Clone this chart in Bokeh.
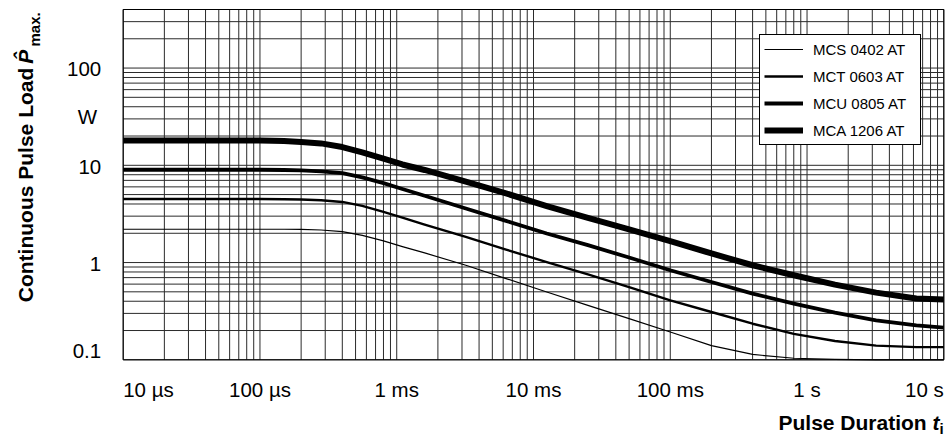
import math
from bokeh.plotting import figure
from bokeh.models import Label, Legend, LegendItem, Range1d
from bokeh.embed import file_html
from bokeh.resources import INLINE

# ---------------- data ----------------
t_s = [1e-5, 1e-4, 1.5e-4, 2e-4, 2.8e-4, 4e-4, 5.6e-4, 8e-4, 1.1e-3, 1.6e-3,
       3.2e-3, 6.3e-3, 1.25e-2, 2.5e-2, 5e-2, 0.1, 0.2, 0.4, 0.8, 1.6, 3.2, 6.3, 10]
mcs_0402 = [2.2, 2.2, 2.2, 2.19, 2.16, 2.08, 1.9, 1.67, 1.46, 1.256,
            0.938, 0.684, 0.498, 0.363, 0.265, 0.193, 0.140, 0.1135, 0.1038, 0.101, 0.1, 0.1, 0.1]
mct_0603 = [4.5, 4.5, 4.48, 4.45, 4.37, 4.2, 3.82, 3.32, 2.9, 2.46,
            1.84, 1.36, 1.01, 0.757, 0.56, 0.408, 0.31, 0.235, 0.185, 0.156, 0.140, 0.135, 0.135]
mcu_0805 = [9.0, 9.0, 8.95, 8.85, 8.65, 8.3, 7.5, 6.55, 5.7, 4.86,
            3.6, 2.68, 1.99, 1.51, 1.126, 0.833, 0.631, 0.479, 0.378, 0.305, 0.254, 0.226, 0.214]
mca_1206 = [18.0, 18.0, 17.8, 17.4, 16.8, 15.4, 13.6, 11.7, 10.2, 8.95,
            6.78, 5.14, 3.81, 2.88, 2.19, 1.66, 1.24, 0.938, 0.74, 0.593, 0.491, 0.426, 0.416]

series_names = ["MCS 0402 AT", "MCT 0603 AT", "MCU 0805 AT", "MCA 1206 AT"]
series_values = [mcs_0402, mct_0603, mcu_0805, mca_1206]

x_decades = [1e-5, 1e-4, 1e-3, 1e-2, 1e-1, 1e0, 1e1]
x_tick_labels = ["10 \u00b5s", "100 \u00b5s", "1 ms", "10 ms", "100 ms", "1 s", "10 s"]
y_decades = [0.1, 1, 10, 100]
y_tick_labels = ["0.1", "1", "10", "100"]
y_max = 400
y_unit = "W"
y_unit_pos = 31.6
x_title = "Pulse Duration "
x_title_sym, x_title_sub = "t", "i"
y_title = "Continuous Pulse Load "
y_title_sym, y_title_sub = "P\u0302", "max."

# ---------------- layout / styles ----------------
W, H = 946, 441
PLOT_L, PLOT_R, PLOT_T, PLOT_B = 122.7, 943.3, 9.0, 359.3   # plot-area box in pixels
FONT = "Liberation Sans"
line_widths = [1.2, 2.4, 3.8, 6.0]
GRID = "#2b2b2b"
BASE_FIX = 0.38   # em; compensates the label baseline placement

x_lo, x_hi = x_decades[0], x_decades[-1]
y_lo, y_hi = y_decades[0], y_max
lx_lo, lx_hi = math.log10(x_lo), math.log10(x_hi)
ly_lo, ly_hi = math.log10(y_lo), math.log10(y_hi)
dec_x = (PLOT_R - PLOT_L) / (lx_hi - lx_lo)
dec_y = (PLOT_B - PLOT_T) / (ly_hi - ly_lo)
x_range = Range1d(10 ** (lx_lo - PLOT_L / dec_x), 10 ** (lx_hi + (W - PLOT_R) / dec_x))
y_range = Range1d(10 ** (ly_lo - (H - PLOT_B) / dec_y), 10 ** (ly_hi + PLOT_T / dec_y))

p = figure(width=W, height=H, x_axis_type="log", y_axis_type="log",
           x_range=x_range, y_range=y_range,
           output_backend="svg", toolbar_location=None,
           min_border_left=0, min_border_right=0, min_border_top=0, min_border_bottom=0)
p.xaxis.visible = False
p.yaxis.visible = False
p.xgrid.visible = False
p.ygrid.visible = False
p.outline_line_color = None
p.background_fill_color = "white"
p.border_fill_color = "white"

# grid (major + minor) inside the plot area
x_grid = [d * m for d in x_decades[:-1] for m in range(1, 10)] + [x_decades[-1]]
y_grid = [d * m for d in y_decades for m in range(1, 10) if d * m <= y_max]
p.segment(x0=x_grid, y0=[y_lo] * len(x_grid), x1=x_grid, y1=[y_hi] * len(x_grid),
          line_color=GRID, line_width=1)
p.segment(x0=[x_lo] * len(y_grid), y0=y_grid, x1=[x_hi] * len(y_grid), y1=y_grid,
          line_color=GRID, line_width=1)
p.quad(left=[x_lo], right=[x_hi], bottom=[y_lo], top=[y_hi],
       fill_color=None, line_color="black", line_width=1)

renderers = []
for vals, lw in zip(series_values, line_widths):
    r = p.line(t_s, vals, line_color="black", line_width=lw, line_join="round")
    renderers.append(r)

legend = Legend(items=[LegendItem(label=n, renderers=[r]) for n, r in zip(series_names, renderers)],
                location=(759, 296), padding=4, spacing=7, margin=0,
                glyph_width=39, glyph_height=20, label_height=20, label_width=103,
                label_standoff=10, label_text_font=FONT, label_text_font_size="15px",
                label_text_color="black",
                border_line_color="black", border_line_width=1, border_line_alpha=1,
                background_fill_color="white", background_fill_alpha=1)
p.add_layout(legend)


def add_text(text, x, y, xo, yo, align="center", size=20.5, style="normal", angle=0.0):
    fix = BASE_FIX * size
    if angle:
        xo -= fix
    else:
        yo += fix
    p.add_layout(Label(x=x, y=y, x_offset=xo, y_offset=yo, text=text,
                       text_align=align, text_baseline="alphabetic",
                       text_font=FONT, text_font_size=f"{size}px", text_font_style=style,
                       text_color="black", angle=angle))


# x tick labels
for i, (t, lab) in enumerate(zip(x_decades, x_tick_labels)):
    align = "left" if i == 0 else ("right" if i == len(x_decades) - 1 else "center")
    add_text(lab, t, y_lo, 0, -37.4, align)

# y tick labels
for i, (v, lab) in enumerate(zip(y_decades, y_tick_labels)):
    add_text(lab, x_lo, v, -22, 1 if i == 0 else -9, "right")
add_text(y_unit, x_lo, y_unit_pos, -35.7, -7.8, "center")

# x title
add_text(x_title, x_lo, y_lo, 655.3, -70.2, "left", 21, "bold")
add_text(x_title_sym, x_lo, y_lo, 809.3, -70.2, "left", 21, "bold italic")
add_text(x_title_sub, x_lo, y_lo, 816.3, -74.2, "left", 15, "bold")

# y title (rotated)
rot = math.pi / 2
add_text(y_title, x_lo, y_lo, -89.7, 57.6, "left", 21, "bold", rot)
add_text(y_title_sym, x_lo, y_lo, -89.7, 296, "left", 21, "bold italic", rot)
add_text(y_title_sub, x_lo, y_lo, -82.7, 313.3, "left", 15, "bold", rot)

open("out.html", "w").write(file_html(p, INLINE))
